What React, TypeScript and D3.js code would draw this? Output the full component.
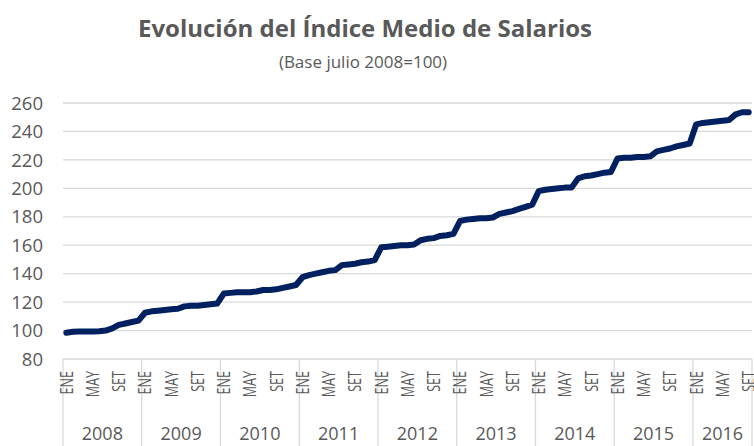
import React from 'react'
import { scaleBand, scaleLinear, line, curveLinear } from 'd3'

const WIDTH = 754
const HEIGHT = 446
const LEFT = 63
const RIGHT = 752
const TOP = 103
const BOTTOM = 359

const GRID = '#d9d9d9'
const TEXT = '#595959'
const LINE = '#002060'
const FONT = '"Open Sans", sans-serif'

const MONTHS = ['ENE', 'FEB', 'MAR', 'ABR', 'MAY', 'JUN', 'JUL', 'AGO', 'SET', 'OCT', 'NOV', 'DIC']
const SHOWN_MONTHS = ['ENE', 'MAY', 'SET']
const YEARS = ['2008', '2009', '2010', '2011', '2012', '2013', '2014', '2015', '2016']
const Y_TICKS = [80, 100, 120, 140, 160, 180, 200, 220, 240, 260]

// índice medio de salarios, base julio 2008 = 100
const IMS_2008 = [98.5, 99.2, 99.3, 99.3, 99.3, 99.5, 100, 101.5, 104, 105, 106, 107]
const IMS_2009 = [112.5, 113.5, 114, 114.5, 115, 115.3, 117, 117.5, 117.5, 118, 118.5, 119]
const IMS_2010 = [126, 126.5, 127, 127, 127, 127.5, 128.5, 128.5, 129, 130, 131, 132]
const IMS_2011 = [137.5, 139, 140, 141, 142, 142.5, 146, 146.5, 147, 148, 148.5, 149.5]
const IMS_2012 = [158.5, 159, 159.5, 160, 160, 160.5, 163.5, 164.5, 165, 166.5, 167, 168]
const IMS_2013 = [177, 178, 178.5, 179, 179, 179.5, 182, 183, 184, 185.5, 187, 188.5]
const IMS_2014 = [198, 199, 199.5, 200, 200.5, 200.5, 207, 208.5, 209, 210, 211, 211.5]
const IMS_2015 = [221, 221.5, 221.5, 222, 222, 222.5, 226, 227, 228, 229.5, 230.5, 231.5]
const IMS_2016 = [245, 246, 246.5, 247, 247.5, 248, 252, 253.5, 253.5]

const IMS_BY_YEAR = [IMS_2008, IMS_2009, IMS_2010, IMS_2011, IMS_2012, IMS_2013, IMS_2014, IMS_2015, IMS_2016]

const series = IMS_BY_YEAR.flatMap((values, yi) =>
  values.map((value, mi) => ({ key: `${YEARS[yi]}-${MONTHS[mi]}`, month: MONTHS[mi], year: YEARS[yi], value }))
)

const App = () => {
  const xScale = scaleBand().domain(series.map(d => d.key)).range([LEFT, RIGHT])
  const yScale = scaleLinear().domain([80, 260]).range([BOTTOM, TOP])
  const bw = xScale.bandwidth()
  const cx = (key: string) => (xScale(key) as number) + bw / 2

  const linePath = line<typeof series[number]>()
    .x(d => cx(d.key))
    .y(d => yScale(d.value))
    .curve(curveLinear)

  const years = YEARS.map((year, yi) => {
    const keys = IMS_BY_YEAR[yi].map((_, mi) => `${year}-${MONTHS[mi]}`)
    const x0 = xScale(keys[0]) as number
    const x1 = (xScale(keys[keys.length - 1]) as number) + bw
    return { year, x0, x1 }
  })

  return (
    <svg width={WIDTH} height={HEIGHT} style={{ position: 'absolute', left: 0, top: 0, background: 'white' }}
      fontFamily={FONT}>
      <text x={365} y={37} textAnchor="middle" fontSize={24} fontWeight="bold" fill={TEXT}>
        Evolución del Índice Medio de Salarios
      </text>
      <text x={363} y={68} textAnchor="middle" fontSize={17} fill={TEXT}>
        (Base julio 2008=100)
      </text>

      <g data-y-axis>
        {Y_TICKS.map(t => (
          <g key={t}>
            <line x1={LEFT} x2={RIGHT} y1={yScale(t)} y2={yScale(t)} stroke={GRID} strokeWidth={1.3} />
            <text x={43} y={yScale(t)} dy="0.36em" textAnchor="end" fontSize={18.5} fill={TEXT}>{t}</text>
          </g>
        ))}
      </g>

      <g data-x-axis>
        {years.map(y => (
          <g key={y.year}>
            <line x1={y.x0} x2={y.x0} y1={BOTTOM} y2={HEIGHT} stroke={GRID} strokeWidth={1.3} />
            <text x={(y.x0 + y.x1) / 2} y={440} textAnchor="middle" fontSize={18} fill={TEXT}>{y.year}</text>
          </g>
        ))}
        <line x1={RIGHT} x2={RIGHT} y1={BOTTOM} y2={HEIGHT} stroke={GRID} strokeWidth={1.3} />
        {series.filter(d => SHOWN_MONTHS.includes(d.month)).map(d => (
          <text key={d.key} transform={`translate(${cx(d.key)}, 371) rotate(-90) scale(0.72, 1)`}
            dy="0.36em" textAnchor="end" fontSize={17.5} fill={TEXT}>
            {d.month}
          </text>
        ))}
      </g>

      <path d={linePath(series) as string} fill="none" stroke={LINE} strokeWidth={6}
        strokeLinejoin="round" strokeLinecap="round" />
    </svg>
  )
}

export default App
